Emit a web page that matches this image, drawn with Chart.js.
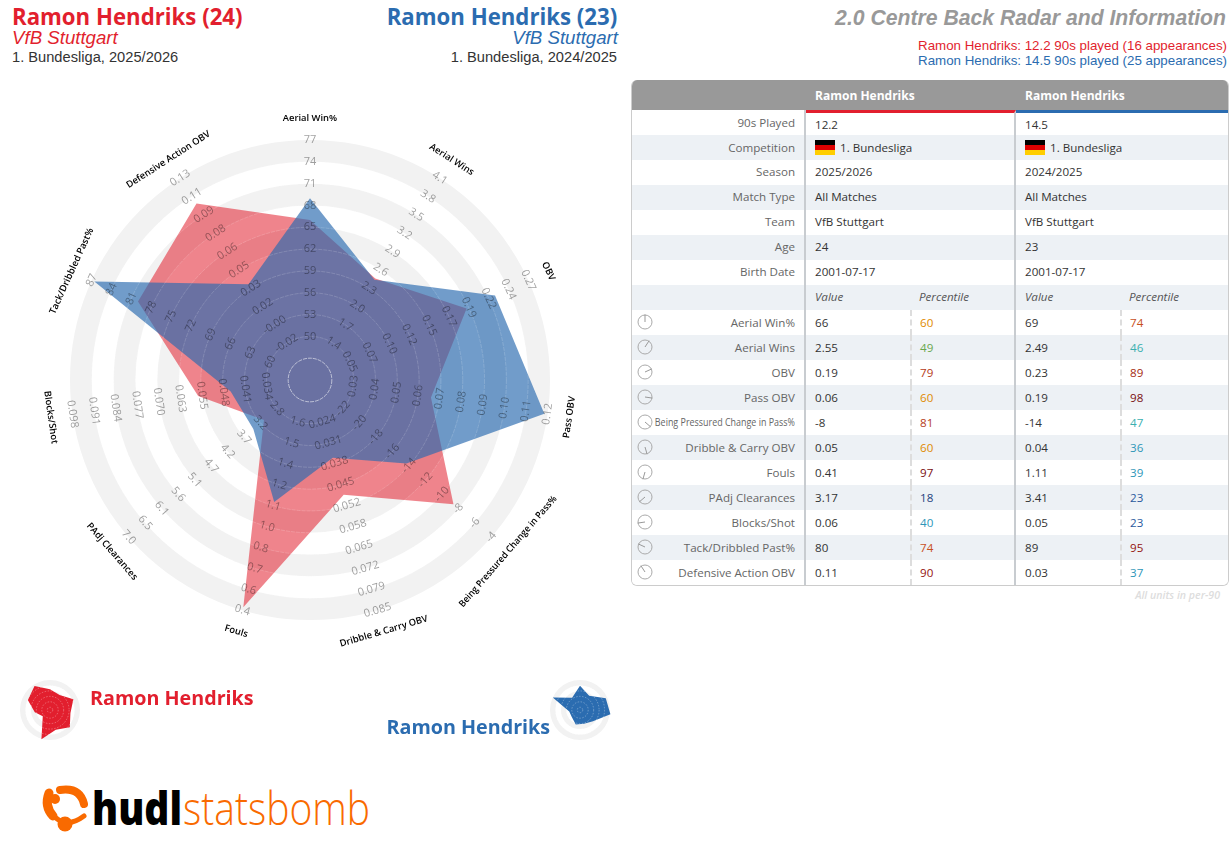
<!DOCTYPE html>
<html>
<head>
<meta charset="utf-8">
<title>2.0 Centre Back Radar and Information</title>
<script src="https://cdn.jsdelivr.net/npm/chart.js@4"></script>
<style>
  body { margin: 0; background: #fff; font-family: "Open Sans", sans-serif; }
  #page { position: relative; width: 1230px; height: 860px; overflow: hidden; }
  .abs { position: absolute; white-space: nowrap; }
  .arial { font-family: "Liberation Sans", Arial, sans-serif; }
  .name-l { transform: scaleX(.925); transform-origin: left center; }
  .name-r { transform: scaleX(.925); transform-origin: right center; }
  .leg-l { transform: scaleX(.985); transform-origin: left center; }
  .leg-r { transform: scaleX(.985); transform-origin: right center; }
  canvas { position: absolute; }
  #statsTable { position: absolute; left: 631px; top: 80px; width: 598px; box-sizing: border-box; border: 1px solid #ccc; border-top: 0; border-radius: 6px; overflow: hidden; }
  #statsTable table { border-collapse: separate; border-spacing: 0; table-layout: fixed; width: 597px; font-size: 11.6px; color: #333; }
  #statsTable td, #statsTable th { height: 25px; padding: 0 0 0 9px; box-sizing: border-box; text-align: left; font-weight: 400; white-space: nowrap; }
  #statsTable tr:nth-child(odd) td { background: #edf1f5; }
  #statsTable tr:nth-child(even) td { background: #fff; }
  #statsTable th { background: #999; color: #fff; font-weight: 700; font-size: 12px; height: 30px; }
  #statsTable td.lab { text-align: right; padding: 0 9px 0 0; color: #666; position: relative; border-right: 2px solid #c8ccd0; }
  #statsTable td.col2 { border-right: 2px solid #c8ccd0; }
  #statsTable td.pct { border-left: 2px dashed #ddd; padding-left: 8px; }
  #statsTable td.first { border-top: 3px solid; }
  #statsTable tr.up td { padding-bottom: 2px; }
  #statsTable tr.head td { font-style: italic; color: #555; }
  .flag { display: inline-block; width: 20px; height: 15px; margin-right: 5px; vertical-align: -3px; background: linear-gradient(#000 33%, #d00 33%, #d00 66%, #ffce00 66%); }
  .squeeze { position: absolute; right: 9px; top: 4px; transform: scaleX(.77); transform-origin: right center; }
  .dial { position: absolute; left: 5px; top: 4px; }
</style>
</head>
<body>
<div id="page">
  <div class="abs name-l" style="left:12px;top:-1px;font-size:24px;font-weight:700;color:#e21f2e;line-height:34px">Ramon Hendriks (24)</div>
  <div class="abs arial" style="left:12px;top:27px;font-size:18.67px;font-style:italic;color:#e21f2e;line-height:22px">VfB Stuttgart</div>
  <div class="abs arial" style="left:12px;top:49px;font-size:14.67px;color:#333;line-height:17px">1. Bundesliga, 2025/2026</div>
  <div class="abs name-r" style="right:613px;top:-1px;font-size:24px;font-weight:700;color:#2b6cb0;line-height:34px">Ramon Hendriks (23)</div>
  <div class="abs arial" style="right:612px;top:27px;font-size:18.67px;font-style:italic;color:#2b6cb0;line-height:22px">VfB Stuttgart</div>
  <div class="abs arial" style="right:613px;top:49px;font-size:14.67px;color:#333;line-height:17px">1. Bundesliga, 2024/2025</div>

  <div class="abs arial" style="right:4px;top:6px;font-size:21.2px;font-weight:700;font-style:italic;color:#999;line-height:24px">2.0 Centre Back Radar and Information</div>
  <div class="abs arial" style="right:3px;top:38px;font-size:13.33px;color:#e21f2e;line-height:15px">Ramon Hendriks: 12.2 90s played (16 appearances)</div>
  <div class="abs arial" style="right:3px;top:53px;font-size:13.33px;color:#2b6cb0;line-height:15px">Ramon Hendriks: 14.5 90s played (25 appearances)</div>

  <canvas id="radarChart" width="620" height="620" style="left:0;top:70px"></canvas>
  <canvas id="miniRed" width="100" height="100" style="left:0;top:660px"></canvas>
  <canvas id="miniBlue" width="100" height="100" style="left:530px;top:660px"></canvas>
  <div class="abs leg-l" style="left:90px;top:683px;font-size:20px;font-weight:700;color:#e21f2e;line-height:30px">Ramon Hendriks</div>
  <div class="abs leg-r" style="right:680px;top:712px;font-size:20px;font-weight:700;color:#2b6cb0;line-height:30px">Ramon Hendriks</div>

  <div id="statsTable"></div>
  <div class="abs" style="right:10px;top:588px;font-size:10.6px;font-weight:600;font-style:italic;color:#ddd;line-height:14px">All units in per-90</div>

  <svg class="abs" style="left:0;top:770px" width="400" height="80">
    <g fill="none" stroke="#f96a00" stroke-linecap="round">
      <path d="M60 20 Q80 17 84 34" stroke-width="8"/>
      <path d="M49 23 Q44 36 53 46" stroke-width="9"/>
      <path d="M56 48 Q68 58 84 46" stroke-width="5"/>
    </g>
    <circle cx="65" cy="54" r="7.5" fill="#f96a00"/>
    <circle cx="55" cy="29" r="5" fill="#f96a00"/>
    <text x="92" y="55" font-family="Open Sans" font-size="46" font-weight="800" fill="#000" textLength="90" lengthAdjust="spacingAndGlyphs">hudl</text>
    <text x="183" y="55" font-family="Open Sans" font-size="46" font-weight="300" fill="#f96a00" textLength="187" lengthAdjust="spacingAndGlyphs">statsbomb</text>
  </svg>
</div>

<script>
const metrics = ['Aerial Win%', 'Aerial Wins', 'OBV', 'Pass OBV', 'Being Pressured Change in Pass%', 'Dribble & Carry OBV', 'Fouls', 'PAdj Clearances', 'Blocks/Shot', 'Tack/Dribbled Past%', 'Defensive Action OBV'];

// labels on each spoke, inner ring to outer ring
const ticksAerialPct = ['50', '53', '56', '59', '62', '65', '68', '71', '74', '77'];
const ticksAerialWins = ['1.4', '1.7', '2.0', '2.3', '2.6', '2.9', '3.2', '3.5', '3.8', '4.1'];
const ticksObv = ['0.05', '0.07', '0.10', '0.12', '0.15', '0.17', '0.19', '0.22', '0.24', '0.27'];
const ticksPassObv = ['0.03', '0.04', '0.05', '0.06', '0.07', '0.08', '0.09', '0.10', '0.11', '0.12'];
const ticksPressured = ['-22', '-20', '-18', '-16', '-14', '-12', '-10', '-8', '-6', '-4'];
const ticksDribble = ['0.024', '0.031', '0.038', '0.045', '0.052', '0.058', '0.065', '0.072', '0.079', '0.085'];
const ticksFouls = ['1.6', '1.5', '1.4', '1.2', '1.1', '1.0', '0.8', '0.7', '0.6', '0.4'];
const ticksClearances = ['2.8', '3.2', '3.7', '4.2', '4.7', '5.1', '5.6', '6.1', '6.5', '7.0'];
const ticksBlocks = ['0.034', '0.041', '0.048', '0.055', '0.063', '0.070', '0.077', '0.084', '0.091', '0.098'];
const ticksTackled = ['60', '63', '66', '69', '72', '75', '78', '81', '84', '87'];
const ticksDefObv = ['-0.02', '-0.00', '0.02', '0.03', '0.05', '0.06', '0.08', '0.09', '0.11', '0.13'];
const spokeTicks = [ticksAerialPct, ticksAerialWins, ticksObv, ticksPassObv, ticksPressured, ticksDribble, ticksFouls, ticksClearances, ticksBlocks, ticksTackled, ticksDefObv];

// values read against the spoke labels (values past the last label sit on the last label)
const radarRed = [66, 2.46, 0.194, 0.066, -8.6, 0.0476, 0.42, 3.17, 0.0566, 80, 0.107];
const radarBlue = [69, 2.44, 0.229, 0.1185, -14.3, 0.0356, 1.09, 3.47, 0.0459, 86.6, 0.0335];

const valuesRed = ['66', '2.55', '0.19', '0.06', '-8', '0.05', '0.41', '3.17', '0.06', '80', '0.11'];
const valuesBlue = ['69', '2.49', '0.23', '0.19', '-14', '0.04', '1.11', '3.41', '0.05', '89', '0.03'];
const percentilesRed = [60, 49, 79, 60, 81, 60, 97, 18, 40, 74, 90];
const percentilesBlue = [74, 46, 89, 98, 47, 36, 39, 23, 23, 95, 37];

const infoLabels = ['90s Played', 'Competition', 'Season', 'Match Type', 'Team', 'Age', 'Birth Date'];
const infoRed = ['12.2', '1. Bundesliga', '2025/2026', 'All Matches', 'VfB Stuttgart', '24', '2001-07-17'];
const infoBlue = ['14.5', '1. Bundesliga', '2024/2025', 'All Matches', 'VfB Stuttgart', '23', '2001-07-17'];

const RED = '#e21f2e';
const BLUE = '#2b6cb0';

function pctColor(p) {
  if (p >= 97) return '#7a0f10';
  if (p >= 90) return '#95140f';
  if (p >= 85) return '#a52a10';
  if (p >= 78) return '#b53a18';
  if (p >= 70) return '#c8501e';
  if (p >= 55) return '#e08a00';
  if (p >= 48) return '#6aa84f';
  if (p >= 42) return '#3bb0b0';
  if (p >= 30) return '#2e96b8';
  if (p >= 21) return '#2a5a9e';
  return '#1f3f80';
}

// spoke value -> ring number, first label sits on ring 2 and the last on ring 11
function toRing(value, i) {
  const lo = parseFloat(spokeTicks[i][0]);
  const hi = parseFloat(spokeTicks[i][9]);
  return 2 + 9 * (value - lo) / (hi - lo);
}

const ringsPlugin = {
  id: 'rings',
  beforeDatasetsDraw(chart, args, opts) {
    const scale = chart.scales.r;
    const ctx = chart.ctx;
    ctx.save();
    ctx.fillStyle = '#f2f2f2';
    for (let n = 0; n < opts.count; n += 2) {
      ctx.beginPath();
      ctx.arc(scale.xCenter, scale.yCenter, opts.outer - n * opts.width, 0, Math.PI * 2);
      ctx.arc(scale.xCenter, scale.yCenter, opts.outer - (n + 1) * opts.width, 0, Math.PI * 2, true);
      ctx.fill();
    }
    ctx.restore();
  },
  afterDatasetsDraw(chart, args, opts) {
    const scale = chart.scales.r;
    const ctx = chart.ctx;
    ctx.save();
    ctx.lineWidth = 1;
    ctx.setLineDash(opts.dash);
    for (let n = 1; n <= opts.count; n++) {
      const r = opts.outer - n * opts.width;
      if (r <= 0) continue;
      ctx.strokeStyle = n === opts.count - 1 ? opts.inner : opts.line;
      ctx.beginPath();
      ctx.arc(scale.xCenter, scale.yCenter, r, 0, Math.PI * 2);
      ctx.stroke();
    }
    ctx.restore();
  }
};

function readableAngle(a) {
  return a > Math.PI / 2 && a < Math.PI * 1.5 ? a - Math.PI : a;
}

// rotated labels along each spoke
const spokeLabelsPlugin = {
  id: 'spokeLabels',
  afterDatasetsDraw(chart) {
    const scale = chart.scales.r;
    const ctx = chart.ctx;
    ctx.save();
    ctx.textAlign = 'center';
    ctx.textBaseline = 'middle';
    metrics.forEach((name, i) => {
      const rot = readableAngle(scale.getIndexAngle(i));
      ctx.font = '11px "Open Sans"';
      ctx.fillStyle = 'rgba(0,0,0,0.38)';
      spokeTicks[i].forEach((label, k) => {
        const p = scale.getPointPositionForValue(i, k + 2);
        ctx.save();
        ctx.translate(p.x, p.y);
        ctx.rotate(rot);
        ctx.fillText(label, 0, 0);
        ctx.restore();
      });
      const out = scale.getPointPosition(i, 262);
      ctx.font = '600 9.4px "Open Sans"';
      ctx.fillStyle = '#000';
      ctx.save();
      ctx.translate(out.x, out.y);
      ctx.rotate(rot);
      ctx.fillText(name, 0, 0, 144);
      ctx.restore();
    });
    ctx.restore();
  }
};

const hiddenScale = {
  grid: { display: false },
  angleLines: { display: false },
  pointLabels: { display: false },
  ticks: { display: false }
};

new Chart(document.getElementById('radarChart'), {
  type: 'radar',
  data: {
    labels: metrics,
    datasets: [
      { data: radarBlue.map(toRing), backgroundColor: 'rgba(43,108,176,0.67)', borderWidth: 0, pointRadius: 0, fill: 'start', order: 1 },
      { data: radarRed.map(toRing), backgroundColor: 'rgba(226,31,46,0.55)', borderWidth: 0, pointRadius: 0, fill: 'start', order: 2 }
    ]
  },
  options: {
    responsive: false,
    animation: false,
    layout: { padding: 70 },
    scales: { r: { ...hiddenScale, min: 0, max: 11 } },
    plugins: {
      legend: { display: false },
      tooltip: { enabled: false },
      rings: { outer: 240, width: 240 / 11, count: 11, dash: [4, 1], line: 'rgba(255,255,255,0.16)', inner: 'rgba(255,255,255,0.55)' }
    }
  },
  plugins: [ringsPlugin, spokeLabelsPlugin]
});

// the two small radars at the bottom are the percentile shapes
function miniRadar(id, percentiles, colour) {
  new Chart(document.getElementById(id), {
    type: 'radar',
    data: {
      labels: metrics,
      datasets: [{ data: percentiles, backgroundColor: colour, borderWidth: 0, pointRadius: 0, fill: 'start' }]
    },
    options: {
      responsive: false,
      animation: false,
      layout: { padding: 10 },
      scales: { r: { ...hiddenScale, min: -18, max: 133 } },
      plugins: {
        legend: { display: false },
        tooltip: { enabled: false },
        rings: { outer: 30, width: 5.45, count: 5, dash: [1.5, 1.5], line: 'rgba(255,255,255,0.3)', inner: 'rgba(255,255,255,0.3)' }
      }
    },
    plugins: [ringsPlugin]
  });
}
miniRadar('miniRed', percentilesRed, RED);
miniRadar('miniBlue', percentilesBlue, BLUE);

function dial(i) {
  const a = i / metrics.length * Math.PI * 2;
  const x = (8 + 7.5 * Math.sin(a)).toFixed(1);
  const y = (8 - 7.5 * Math.cos(a)).toFixed(1);
  return `<svg class="dial" width="16" height="16"><circle cx="8" cy="8" r="7" fill="none" stroke="#aaa"/><line x1="8" y1="8" x2="${x}" y2="${y}" stroke="#999"/></svg>`;
}

function buildTable() {
  let html = '<table><colgroup><col style="width:174px"><col style="width:104px"><col style="width:106px"><col style="width:104px"><col></colgroup>';
  html += '<tr><th></th><th colspan="2">Ramon Hendriks</th><th colspan="2">Ramon Hendriks</th></tr>';
  infoLabels.forEach((label, i) => {
    const flag = label === 'Competition' ? '<span class="flag"></span>' : '';
    const first = i === 0 ? ' first' : '';
    const up = i > 1 ? ' class="up"' : '';
    html += `<tr${up}><td class="lab">${label}</td>`;
    html += `<td colspan="2" class="col2${first}" style="border-top-color:${RED}">${flag}${infoRed[i]}</td>`;
    html += `<td colspan="2" class="${first}" style="border-top-color:${BLUE}">${flag}${infoBlue[i]}</td></tr>`;
  });
  html += '<tr class="head up"><td class="lab"></td><td>Value</td><td class="col2">Percentile</td><td>Value</td><td>Percentile</td></tr>';
  metrics.forEach((name, i) => {
    const text = name.length > 25 ? `<span class="squeeze">${name}</span>` : name.replace('&', '&amp;');
    html += `<tr><td class="lab">${dial(i)}${text}</td><td>${valuesRed[i]}</td>`;
    html += `<td class="pct col2" style="color:${pctColor(percentilesRed[i])}">${percentilesRed[i]}</td>`;
    html += `<td>${valuesBlue[i]}</td><td class="pct" style="color:${pctColor(percentilesBlue[i])}">${percentilesBlue[i]}</td></tr>`;
  });
  html += '</table>';
  document.getElementById('statsTable').innerHTML = html;
}
buildTable();
</script>
</body>
</html>
